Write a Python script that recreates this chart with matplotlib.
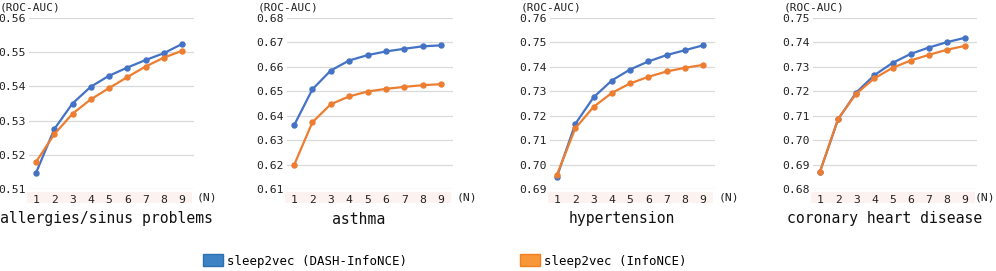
import matplotlib
matplotlib.use("Agg")
import matplotlib.pyplot as plt
from matplotlib.patches import Patch, Rectangle

W, H = 996, 271

n_values = [1, 2, 3, 4, 5, 6, 7, 8, 9]
titles = ["allergies/sinus problems", "asthma", "hypertension", "coronary heart disease"]
series_names = ["sleep2vec (DASH-InfoNCE)", "sleep2vec (InfoNCE)"]

dash_allergies = [0.5147, 0.5275, 0.5350, 0.5399, 0.5431, 0.5455, 0.5477, 0.5497, 0.5524]
info_allergies = [0.5179, 0.5260, 0.5320, 0.5362, 0.5395, 0.5427, 0.5458, 0.5484, 0.5504]
dash_asthma = [0.6360, 0.6508, 0.6585, 0.6626, 0.6648, 0.6663, 0.6674, 0.6684, 0.6688]
info_asthma = [0.6197, 0.6373, 0.6447, 0.6479, 0.6499, 0.6510, 0.6518, 0.6525, 0.6529]
dash_hyper = [0.6951, 0.7166, 0.7275, 0.7344, 0.7389, 0.7422, 0.7448, 0.7468, 0.7488]
info_hyper = [0.6959, 0.7148, 0.7236, 0.7293, 0.7332, 0.7359, 0.7381, 0.7396, 0.7408]
dash_chd = [0.6871, 0.7085, 0.7195, 0.7266, 0.7316, 0.7353, 0.7379, 0.7401, 0.7419]
info_chd = [0.6871, 0.7088, 0.7190, 0.7253, 0.7296, 0.7326, 0.7349, 0.7370, 0.7386]

y_ranges = [(0.51, 0.56), (0.61, 0.68), (0.69, 0.76), (0.68, 0.75)]

dash_all = [dash_allergies, dash_asthma, dash_hyper, dash_chd]
info_all = [info_allergies, info_asthma, info_hyper, info_chd]

blue = "#4472c4"
orange = "#ed7d31"
mono = "DejaVu Sans Mono"

# pixel layout
tick_px = [(36, 182), (294, 441), (557, 703), (820, 965)]
title_cx = [106, 359, 622, 885]
n_label_x = [197, 457, 719, 975]
top_px, bot_px = 18, 189
xlo, xhi = 0.6, 9.65

fig = plt.figure(figsize=(W / 100, H / 100), dpi=100)

for i in range(4):
    x1, x9 = tick_px[i]
    unit = (x9 - x1) / 8.0
    left = x1 - (1 - xlo) * unit
    width = (xhi - xlo) * unit
    ax = fig.add_axes([left / W, 1 - bot_px / H, width / W, (bot_px - top_px) / H])
    ax.plot(n_values, dash_all[i], color=blue, lw=1.6, marker="o", ms=3.6, zorder=3)
    ax.plot(n_values, info_all[i], color=orange, lw=1.6, marker="o", ms=3.6, zorder=3)
    lo, hi = y_ranges[i]
    nt = int(round((hi - lo) / 0.01)) + 1
    yt = [round(lo + k * 0.01, 2) for k in range(nt)]
    ax.set_ylim(lo, hi)
    ax.set_xlim(xlo, xhi)
    ax.set_yticks(yt)
    ax.set_yticklabels([f"{v:.2f}" for v in yt], family=mono, fontsize=8.2)
    ax.set_xticks(n_values)
    ax.set_xticklabels([str(v) for v in n_values], family=mono, fontsize=8.2)
    ax.tick_params(length=0, pad=2, colors="#222222")
    ax.tick_params(axis="x", pad=4)
    ax.grid(axis="y", color="#d9d9d9", lw=0.9)
    ax.set_axisbelow(True)
    for s in ax.spines.values():
        s.set_visible(False)
    # light band behind x tick labels
    ah = bot_px - top_px
    band = Rectangle((-0.01, -13.5 / ah), 1.0, 11 / ah, transform=ax.transAxes,
                     facecolor="#fcf2ef", edgecolor="none", clip_on=False, zorder=0)
    ax.add_patch(band)
    fig.text(n_label_x[i] / W, 1 - 198 / H, "(N)", family=mono, fontsize=8.2,
             ha="left", va="center", color="#222222")
    fig.text((left - 29) / W, 1 - 7 / H, "(ROC-AUC)", family=mono, fontsize=8.0,
             ha="left", va="center", color="#222222")
    fig.text(title_cx[i] / W, 1 - 219 / H, titles[i], family=mono,
             fontsize=10.6, ha="center", va="center", color="#111111")

leg_kw = dict(frameon=False, prop={"family": mono, "size": 8.9}, handlelength=1.6,
              handleheight=1.1, handletextpad=0.35, borderpad=0, borderaxespad=0)
h1 = Patch(facecolor="#3b83c4", edgecolor="#2f6fae", label=series_names[0])
h2 = Patch(facecolor="#f8963a", edgecolor="#f28020", label=series_names[1])
fig.legend(handles=[h1], loc="center left", bbox_to_anchor=(203 / W, 1 - 261 / H), **leg_kw)
fig.legend(handles=[h2], loc="center left", bbox_to_anchor=(520 / W, 1 - 261 / H), **leg_kw)

fig.savefig("out.png", dpi=100, facecolor="white")
